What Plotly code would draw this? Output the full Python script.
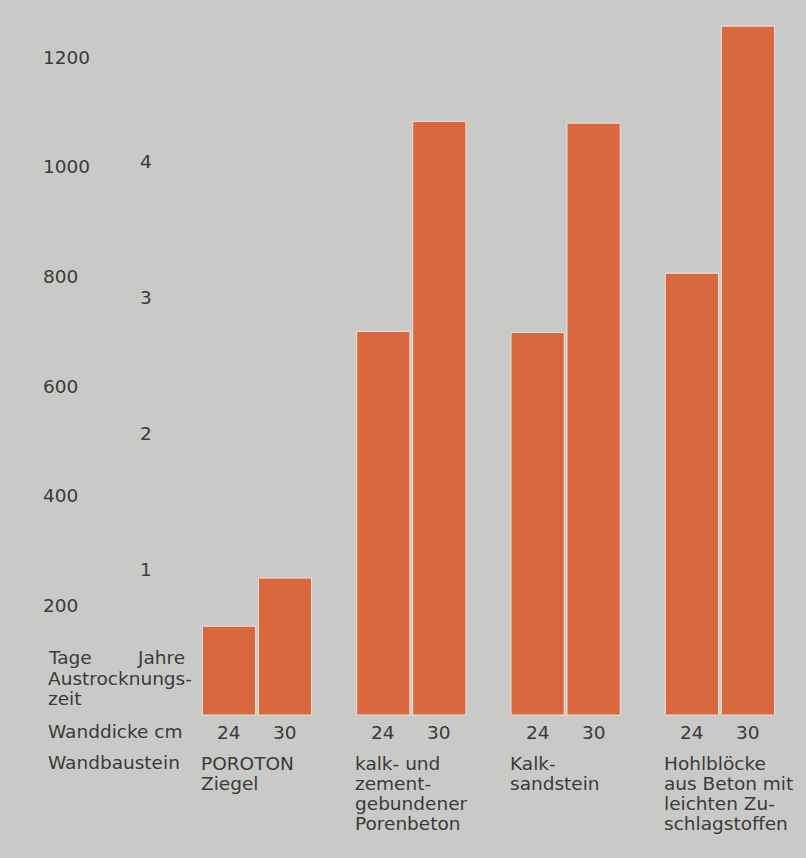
import plotly.graph_objects as go

# ---- data ----
categories = ["POROTON", "Porenbeton", "Kalksandstein", "Hohlbloecke"]
category_labels = [
    ["POROTON", "Ziegel"],
    ["kalk- und", "zement-", "gebundener", "Porenbeton"],
    ["Kalk-", "sandstein"],
    ["Hohlblöcke", "aus Beton mit", "leichten Zu-", "schlagstoffen"],
]
days_24cm = [162, 700, 698, 806]
days_30cm = [250, 1083, 1080, 1257]
thickness_labels = ["24", "30"]
tage_ticks = [200, 400, 600, 800, 1000, 1200]
jahre_ticks = [1, 2, 3, 4]

# ---- style ----
W, H = 806, 858
BG = "#c9cac8"
BAR = "#d9683f"
TXT = "#3a3a3a"
FONT = "DejaVu Sans"
FS = 18.5

fig = go.Figure()
for vals, name in [(days_24cm, "24 cm"), (days_30cm, "30 cm")]:
    fig.add_trace(go.Bar(
        x=categories, y=vals, name=name,
        marker=dict(color=BAR, line=dict(color="#ece3da", width=1)),
        hoverinfo="x+y",
    ))
fig.add_trace(go.Scatter(x=[], y=[], yaxis="y2", showlegend=False))

def py(px):
    return 1 - px / H

ann = []
# left-hand labels
for text, x, y in [("Tage", 46, 657), ("Jahre", 135, 657),
                   ("Austrocknungs-", 46, 678), ("zeit", 46, 698),
                   ("Wanddicke cm", 46, 731), ("Wandbaustein", 46, 762)]:
    ann.append(dict(text=text, xref="paper", yref="paper", x=x / W, y=py(y),
                    xanchor="left", yanchor="middle", showarrow=False,
                    font=dict(family=FONT, size=FS, color=TXT)))
# thickness labels under bars
for cat in categories:
    for lbl, sh in zip(thickness_labels, [-28, 28]):
        ann.append(dict(text=lbl, xref="x", yref="paper", x=cat, y=py(732),
                        xshift=sh, xanchor="center", yanchor="middle", showarrow=False,
                        font=dict(family=FONT, size=FS, color=TXT)))
# category names
for cat, lines in zip(categories, category_labels):
    for i, line in enumerate(lines):
        ann.append(dict(text=line, xref="x", yref="paper", x=cat, y=py(763 + 20 * i),
                        xshift=-58, xanchor="left", yanchor="middle", showarrow=False,
                        font=dict(family=FONT, size=FS, color=TXT)))

px_per_day = 109.6 / 200
base = 715
fig.update_layout(
    width=W, height=H,
    margin=dict(l=0, r=0, t=0, b=0),
    paper_bgcolor=BG, plot_bgcolor=BG,
    showlegend=False,
    barmode="group", bargap=0.274, bargroupgap=0.05,
    xaxis=dict(type="category", categoryarray=categories,
               range=[-257 / 154.3, (W - 257) / 154.3],
               showticklabels=False, showgrid=False, zeroline=False, showline=False, ticks=""),
    yaxis=dict(range=[-(H - base) / px_per_day, base / px_per_day],
               tickvals=tage_ticks, ticklabelposition="inside",
               anchor="free", position=39 / W, ticks="",
               showgrid=False, zeroline=False, showline=False,
               tickfont=dict(family=FONT, size=FS, color=TXT)),
    yaxis2=dict(overlaying="y", range=[(base - 9 - H) / 136, (base - 9) / 136],
                tickvals=jahre_ticks, ticklabelposition="inside",
                anchor="free", position=136 / W, side="left", ticks="",
                showgrid=False, zeroline=False, showline=False,
                tickfont=dict(family=FONT, size=FS, color=TXT)),
    annotations=ann,
)
fig.write_html("out.html")
